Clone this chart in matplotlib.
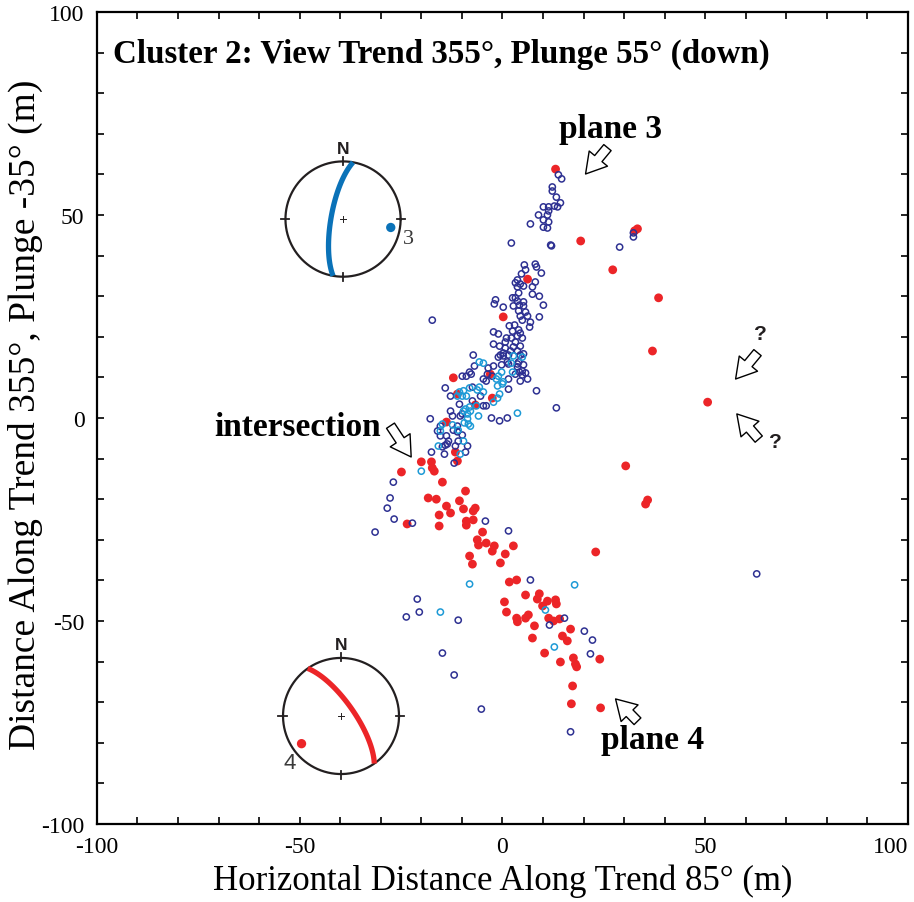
import matplotlib.pyplot as plt
import numpy as np

# event locations (m) -- plane 4 (red), plane 3 (navy), cyan events
red_x = [13.1, 19.3, 32.6, 33.3, 27.2, 38.5, 37.0, 50.6, 30.4, 35.8, 35.3, 23.0, 24.0, 24.2,
         6.2, 0.2, -12.1, -11.1, -6.7, -2.5, -3.0, -13.8, -20.0, -24.9, -17.5, -17.3, -16.8,
         -11.6, -11.1, -14.8, -9.1, -18.3, -16.3, -10.6, -13.8, -9.6, -6.7, -7.2, -15.6, -12.8,
         -23.5, -8.9, -7.2, -8.9, -15.6, -4.9, -6.2, -5.9, -4.0, -2.0, -2.5, 2.7, 0.7, -8.1,
         -7.4, -0.5, 1.7, 3.5, 0.5, 5.7, 1.0, 9.1, 8.6, 11.1, 13.1, 13.3, 9.9, 3.5, 3.7, 5.7,
         6.4, 11.4, 12.6, 14.1, 7.9, 16.8, 7.4, 14.8, 16.0, 10.4, 14.3, 17.5, 18.0, 18.3, 17.3, 17.0]
red_y = [61.3, 43.6, 46.1, 46.6, 36.5, 29.6, 16.5, 3.9, -11.8, -20.2, -21.2, -33.0, -59.4, -71.4,
         34.2, 24.9, 9.9, 5.9, 3.2, 4.9, 10.8, -1.0, -10.8, -13.3, -10.8, -12.3, -13.1,
         -8.4, -10.6, -15.8, -18.0, -19.7, -20.0, -20.4, -21.7, -22.4, -22.2, -22.9, -23.9, -23.4,
         -26.1, -25.4, -25.1, -26.4, -26.6, -28.1, -30.0, -31.3, -30.8, -31.5, -32.8, -31.5, -33.5, -34.0,
         -36.0, -35.7, -40.4, -39.9, -45.3, -43.6, -47.8, -43.3, -44.6, -45.1, -44.8, -45.8, -46.3, -49.3, -50.2, -49.3,
         -48.5, -49.3, -50.0, -49.5, -51.2, -52.0, -54.2, -53.7, -54.9, -57.9, -60.1, -59.1, -60.6, -61.3, -66.0, -70.4]

navy_x = [13.8, 14.6, 12.3, 12.3, 13.3, 14.3, 12.8, 13.6, 10.1, 11.4, 11.4, 8.9, 11.1, 10.1, 11.4,
          6.9, 10.1, 11.1, 2.2, 11.9, 12.1, 28.9, 32.3, 32.3, 5.4, 8.1, 8.4, 5.7, 9.6, 4.7, 3.7,
          3.2, 4.4, 5.2, 8.1, 7.4, 3.7, 4.0, 7.4, 9.1, -1.7, 2.5, 3.2, -2.0, 0.2, 3.7, 5.2, 2.7,
          4.2, 5.2, 10.1, 4.0, 5.7, 4.4, 6.2, 9.1, 4.9, 6.9, 1.7, 3.0, 6.7, 2.5, 4.0, -2.2, -1.0,
          4.4, 1.0, 2.2, 3.7, 4.9, 0.7, -2.2, -0.7, 0.7, 2.0, 3.7, 0.2, -0.5, 1.5, 4.4, -7.2,
          -17.3, -1.0, 0.2, 5.2, -6.9, -3.5, -2.2, -0.2, 1.5, 4.0, 3.7, 4.9, 4.9, 3.2, 6.2, 4.4,
          1.5, 1.5, 8.4, 13.3, -7.7, -8.9, -9.9, -3.7, -4.7, -14.1, -12.8, -7.4, -5.4, -4.7,
          -12.8, -12.3, -17.8, -2.7, -0.7, 1.2, -9.9, -10.6, -15.3, 3.2, 2.7, 4.4, 1.2, 3.7, 5.2,
          4.2, 5.7, -2.5, -4.0, -8.1, -7.4, -4.0, -16.0, -15.3, -13.8, -12.1, -11.1, -9.9, -13.3,
          -10.9, -11.6, -8.6, -14.1, -10.4, -11.1, -17.5, -14.3, -14.8, -13.6, -9.1, -11.9, -4.2,
          1.5, -22.2, -26.9, -27.7, -28.4, -26.7, -31.4, -21.0, -20.5, -23.7, -10.9, 6.9, 11.6,
          15.3, 20.2, 22.2, 21.7, -14.8, -11.9, -5.2, 16.8, 62.7]
navy_y = [59.9, 58.9, 56.9, 55.9, 54.4, 53.0, 52.2, 52.0, 52.0, 52.0, 51.0, 50.0, 50.0, 48.8, 48.3,
          47.8, 47.0, 46.8, 43.1, 42.6, 42.4, 42.1, 45.6, 44.6, 37.7, 37.9, 37.2, 36.5, 35.7, 35.5, 34.0,
          33.3, 33.0, 32.5, 33.5, 32.3, 32.3, 30.8, 30.5, 30.0, 29.1, 29.6, 29.6, 28.1, 27.3, 28.8, 28.6, 27.6,
          27.8, 27.6, 27.8, 26.4, 26.1, 25.1, 25.1, 24.9, 24.1, 23.6, 22.7, 22.9, 22.4, 21.4, 21.7, 21.2, 20.7,
          20.9, 19.7, 19.7, 20.2, 19.7, 18.7, 18.2, 17.7, 17.2, 16.5, 16.5, 16.0, 15.5, 15.5, 15.5, 15.5,
          24.1, 15.0, 15.3, 15.8, 12.8, 12.3, 12.8, 13.1, 13.3, 13.8, 12.6, 11.6, 10.6, 10.8, 9.6, 9.1,
          9.6, 7.1, 6.7, 2.5, 10.8, 10.3, 10.3, 10.8, 9.6, 7.4, 5.4, 4.2, 5.4, 3.0,
          1.7, 0.5, -0.2, 0.0, -0.7, 0.0, 1.0, 3.4, -2.0, 18.7, 17.5, 17.7, 13.8, 13.3, 13.1,
          11.3, 11.1, 10.3, 9.1, 11.3, 7.6, 3.0, -3.2, -4.4, -4.4, -3.0, -3.4, -4.2, -5.7,
          -5.7, -6.9, -6.9, -6.7, 0.5, -2.0, -8.4, -8.9, -7.1, -6.4, -8.4, -11.1, -25.4,
          -27.8, -25.9, -15.8, -19.7, -22.2, -24.9, -28.1, -44.6, -47.8, -49.0, -49.8, -39.9, -51.0,
          -49.3, -52.5, -54.7, -58.1, -57.9, -63.3, -71.7, -77.3, -38.4]

cyan_x = [-5.7, -4.7, -0.2, -1.0, -1.5, 0.2, 2.2, 2.7, 4.9, 2.5, -1.2, 0.0, -0.7, -1.2, -2.2,
          -5.7, -6.2, -4.7, -8.1, -9.6, -10.6, -9.9, -8.9, -11.1, -8.1, -9.1, -9.6, -7.9, -8.6,
          -8.6, -8.4, -7.9, -5.9, -6.4, 3.7, -14.8, -15.3, -12.3, -15.8, -10.9, -9.6, -10.4, -9.4,
          -20.0, -8.1, 17.8, -15.3, 10.6, 12.8]
cyan_y = [13.8, 13.5, 11.3, 10.3, 9.6, 8.9, 13.5, 15.3, 15.0, 11.3, 7.9, 8.4, 5.9, 4.9, 3.9,
          7.6, 6.9, 6.4, 7.4, 6.7, 6.4, 5.4, 5.4, 5.4, 2.7, 2.2, 1.7, 1.7, 1.0,
          -0.2, -1.5, -2.0, 0.5, 3.0, 1.2, -1.5, -3.2, -1.7, -6.9, -3.0, -5.7, -8.9, -1.2,
          -13.1, -40.9, -41.1, -47.8, -47.3, -56.4]

# stereonet planes: (dip direction, dip) in degrees
plane3 = (280, 73)
plane4 = (55, 72)

RED = '#ec2528'
NAVY = '#2e3192'
CYAN = '#1d9ad6'
BLUE = '#0a72b8'
INK = '#231f20'

plt.rcParams['font.family'] = ['Liberation Serif', 'DejaVu Serif']
plt.rcParams['axes.unicode_minus'] = False

fig = plt.figure(figsize=(9.14, 9.03), dpi=100)
ax = fig.add_axes([0.106, 0.0864, 0.8874, 0.8992])

ax.scatter(red_x, red_y, s=40, color=RED, edgecolors='none', zorder=3)
ax.scatter(navy_x, navy_y, s=20, facecolors='none', edgecolors=NAVY, linewidths=1.1, zorder=4)
ax.scatter(cyan_x, cyan_y, s=20, facecolors='none', edgecolors=CYAN, linewidths=1.1, zorder=5)

ax.set_xlim(-100, 100)
ax.set_ylim(-100, 100)
ax.set_xticks(np.arange(-100, 101, 50))
ax.set_yticks(np.arange(-100, 101, 50))
ax.set_xticks(np.arange(-100, 101, 10), minor=True)
ax.set_yticks(np.arange(-100, 101, 10), minor=True)
ax.tick_params(which='both', direction='in', length=5, width=1.2, top=True, right=True)
ax.tick_params(which='major', labelsize=17, pad=9)
ax.get_xticklabels()[-1].set_horizontalalignment('right')
for s in ax.spines.values():
    s.set_linewidth(1.6)

ax.set_xlabel('Horizontal Distance Along Trend 85° (m)', fontsize=25)
ax.set_ylabel('Distance Along Trend 355°, Plunge -35° (m)', fontsize=27)
ax.xaxis.set_label_coords(0.5, -0.049)
ax.yaxis.set_label_coords(-0.066, 0.505)

ax.text(-96, 89.7, 'Cluster 2: View Trend 355°, Plunge 55° (down)', fontsize=23.8,
        fontweight='bold', ha='left', va='center')


def proj(trend, plunge, R):
    r = R * np.sqrt(2) * np.sin(np.radians(90 - plunge) / 2)
    return r * np.sin(np.radians(trend)), r * np.cos(np.radians(trend))


def stereonet(cx, cy, R, plane, color, label, loff, lfont):
    dd, dip = plane
    t = np.linspace(0, 2 * np.pi, 200)
    ax.plot(cx + R * np.cos(t), cy + R * np.sin(t), color=INK, lw=1.6, zorder=6)
    for az in (0, 90, 180, 270):
        a = np.radians(az)
        ax.plot([cx + 0.94 * R * np.sin(a), cx + 1.08 * R * np.sin(a)],
                [cy + 0.94 * R * np.cos(a), cy + 1.08 * R * np.cos(a)],
                color=INK, lw=1.3, zorder=6)
    ax.plot([cx - 0.05 * R, cx + 0.05 * R], [cy, cy], color=INK, lw=0.7, zorder=6)
    ax.plot([cx, cx], [cy - 0.05 * R, cy + 0.05 * R], color=INK, lw=0.7, zorder=6)
    # great circle
    a = np.radians(np.linspace(0, 180, 100))
    sa = np.radians(dd - 90)
    s = np.array([np.sin(sa), np.cos(sa), 0.0])
    d = np.array([np.cos(np.radians(dip)) * np.sin(np.radians(dd)),
                  np.cos(np.radians(dip)) * np.cos(np.radians(dd)),
                  np.sin(np.radians(dip))])
    v = np.outer(np.cos(a), s) + np.outer(np.sin(a), d)
    tr = np.degrees(np.arctan2(v[:, 0], v[:, 1]))
    pl = np.degrees(np.arcsin(np.clip(v[:, 2], -1, 1)))
    gx, gy = proj(tr, pl, R)
    ax.plot(cx + gx, cy + gy, color=color, lw=3.8, solid_capstyle='butt', zorder=7)
    # pole
    px, py = proj(dd + 180, 90 - dip, R)
    ax.scatter([cx + px], [cy + py], s=45, color=color, edgecolors='none', zorder=7)
    ax.text(cx + px + loff[0], cy + py + loff[1], label, fontsize=16, color='#3a3a3a',
            family=lfont, ha='center', va='center', zorder=7)
    ax.text(cx, cy + R + 3.2, 'N', fontsize=12.5, fontweight='bold', family='Liberation Sans',
            ha='center', va='center', color=INK, zorder=7)


stereonet(-39.3, 49.0, 14.2, plane3, BLUE, '3', (4.3, -2.8), 'Liberation Serif')
stereonet(-39.8, -73.4, 14.3, plane4, RED, '4', (-2.8, -4.6), 'Liberation Sans')

arrow = dict(arrowstyle='simple,head_length=0.8,head_width=0.95,tail_width=0.38',
             fc='white', ec='black', lw=1.0, mutation_scale=18, shrinkA=0, shrinkB=0)
ax.annotate('', xy=(20.5, 60.1), xytext=(25.9, 66.6), arrowprops=arrow, zorder=8)
ax.annotate('', xy=(-22.5, -9.6), xytext=(-27.6, -1.9), arrowprops=arrow, zorder=8)
ax.annotate('', xy=(57.5, 9.6), xytext=(62.9, 16.1), arrowprops=arrow, zorder=8)
ax.annotate('', xy=(57.8, 1.0), xytext=(63.2, -5.2), arrowprops=arrow, zorder=8)
ax.annotate('', xy=(27.9, -69.2), xytext=(33.3, -74.7), arrowprops=arrow, zorder=8)

ax.text(26.7, 71.2, 'plane 3', fontsize=24, fontweight='bold', ha='center', va='center')
ax.text(-29.9, -2.2, 'intersection', fontsize=24, fontweight='bold', ha='right', va='center')
ax.text(37.0, -79.1, 'plane 4', fontsize=24, fontweight='bold', ha='center', va='center')
ax.text(63.7, 20.7, '?', fontsize=15, fontweight='bold', family='Liberation Sans',
        ha='center', va='center', color=INK)
ax.text(67.2, -5.9, '?', fontsize=15, fontweight='bold', family='Liberation Sans',
        ha='center', va='center', color=INK)

fig.savefig('out.png', dpi=100)
